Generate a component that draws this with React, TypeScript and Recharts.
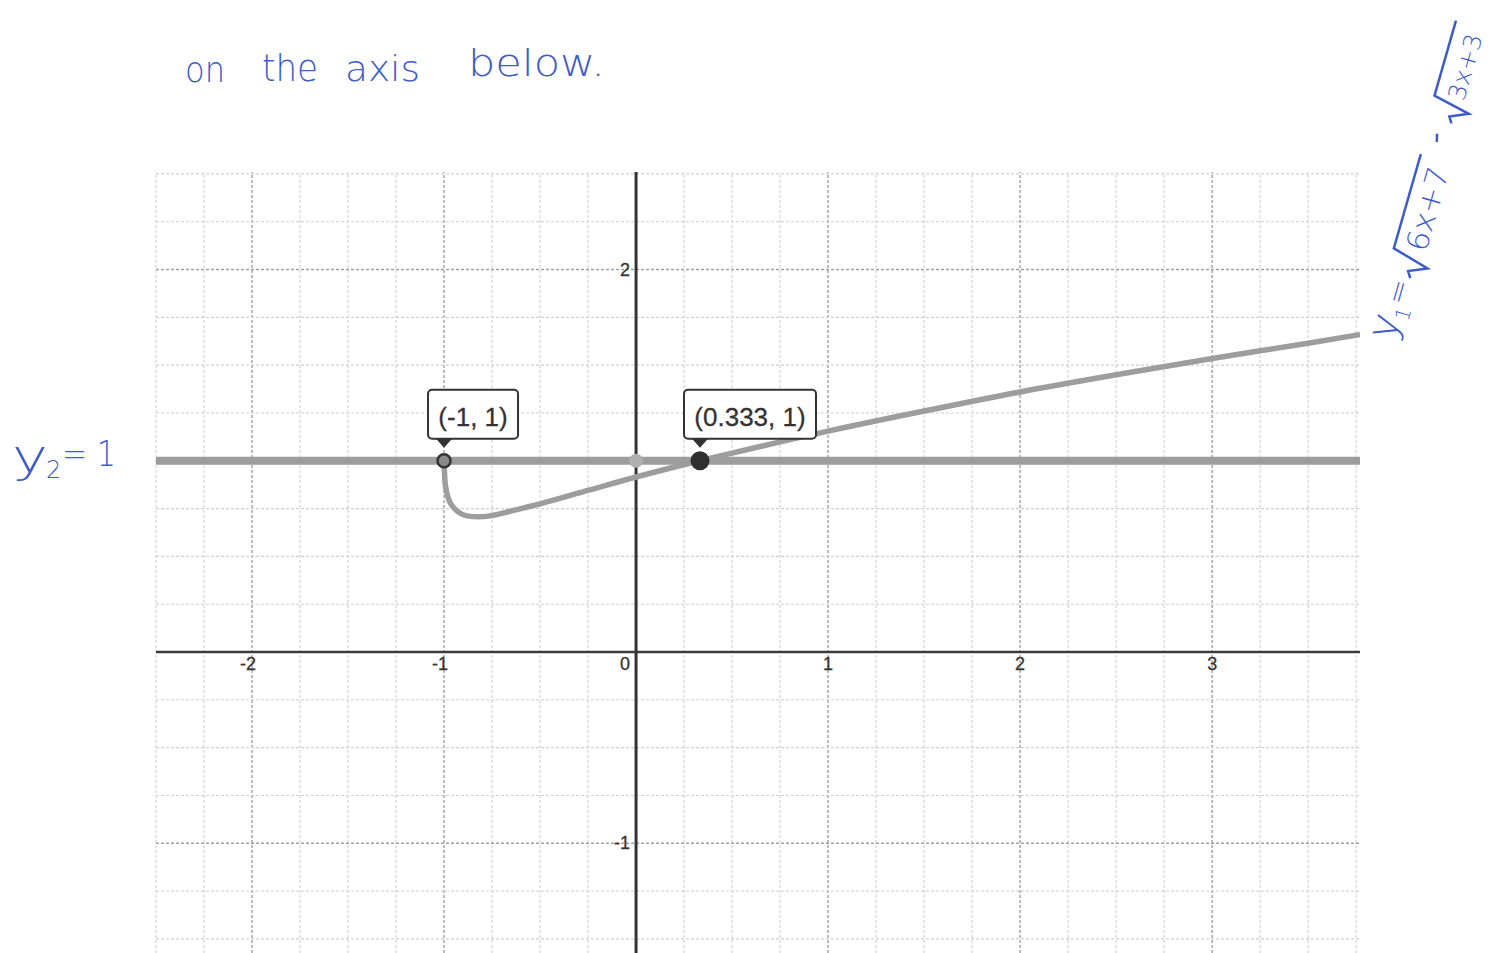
import React from 'react';
import { LineChart, Line, XAxis, YAxis, ReferenceLine, ReferenceDot } from 'recharts';

// y1 = sqrt(6x+7) - sqrt(3x+3)
const curveX = [-1, -0.995, -0.99, -0.98, -0.97, -0.95, -0.92, -0.88, -0.82, -0.76, -0.7, -0.6, -0.5, -0.25, 0, 0.333, 0.5, 1, 1.5, 2, 2.5, 3, 3.5, 3.77];
const curveY = [1, 0.89, 0.855, 0.81, 0.785, 0.755, 0.728, 0.712, 0.707, 0.712, 0.725, 0.75, 0.775, 0.845, 0.915, 1, 1.04, 1.155, 1.26, 1.36, 1.45, 1.535, 1.615, 1.66];

// y2 = 1
const y2Value = 1;

const xDomain: [number, number] = [-2.5, 3.77];
const yDomain: [number, number] = [-1.6, 2.51];

const xTickLabels = [-2, -1, 0, 1, 2, 3];
const yTickLabels = [2, -1];

// intersection points
const pointX = [-1, 0.333];
const pointY = [1, 1];
const pointText = ['(-1, 1)', '(0.333, 1)'];

const FONT = '"Liberation Sans", Arial, sans-serif';
const INK = '#3d5cc9';
const CURVE = '#9d9d9d';

const curveData = curveX.map((x, i) => ({ x, y: curveY[i] }));
const y2Data = xDomain.map(x => ({ x, y: y2Value }));

function steps(from: number, to: number, step: number) {
  const out: number[] = [];
  for (let v = from; v <= to + 1e-9; v += step) out.push(Math.round(v * 100) / 100);
  return out;
}
const gridX = steps(-2.5, 3.75, 0.25).filter(v => v !== 0);
const gridY = steps(-1.5, 2.5, 0.25).filter(v => v !== 0);

// ── 축 눈금 라벨 ──
const xTick = (v: number) => (props: any) => {
  const { viewBox } = props;
  const cx = viewBox.x + viewBox.width / 2;
  const cy = viewBox.y + viewBox.height / 2;
  let anchor: 'middle' | 'end' = 'middle';
  let dx = 0;
  if (v < 0) { anchor = 'end'; dx = 4; }
  if (v === 0) { anchor = 'end'; dx = -6; }
  return (
    <text x={cx + dx} y={cy + 18} textAnchor={anchor} fontSize={18} fill="#333" fontFamily={FONT}
      stroke="#333" strokeWidth={0.3}>
      {v}
    </text>
  );
};

const yTick = (v: number) => (props: any) => {
  const { viewBox } = props;
  const cx = viewBox.x + viewBox.width / 2;
  const cy = viewBox.y + viewBox.height / 2;
  return (
    <text x={cx - 6} y={cy + 6} textAnchor="end" fontSize={18} fill="#333" fontFamily={FONT}
      stroke="#333" strokeWidth={0.3}>
      {v}
    </text>
  );
};

// ── 좌표 말풍선 ──
const callout = (text: string) => (props: any) => {
  const { viewBox } = props;
  const cx = viewBox.x + viewBox.width / 2;
  const cy = viewBox.y + viewBox.height / 2;
  const w = text.length * 14 - 8;
  const left = cx - 16;
  const bottom = cy - 22;
  const top = bottom - 49;
  return (
    <g>
      <rect x={left} y={top} width={w} height={49} rx={4} fill="#fff" stroke="#333" strokeWidth={2} />
      <path d={`M${cx - 8},${bottom} L${cx + 8},${bottom} L${cx},${bottom + 9} Z`} fill="#333" />
      <text x={left + w / 2} y={top + 36} textAnchor="middle" fontSize={26} fill="#333" fontFamily={FONT}
        stroke="#333" strokeWidth={0.3}>
        {text}
      </text>
    </g>
  );
};

function Handwriting() {
  const hand = { fill: INK, fontFamily: '"DejaVu Sans", sans-serif', fontWeight: 200 } as const;
  return (
    <svg width={1494} height={953} style={{ position: 'absolute', left: 0, top: 0, pointerEvents: 'none' }}>
      <text x={185} y={82} fontSize={36} textLength={40} lengthAdjust="spacingAndGlyphs" {...hand}>on</text>
      <text x={262} y={81} fontSize={38} textLength={56} lengthAdjust="spacingAndGlyphs" {...hand}>the</text>
      <text x={345} y={81} fontSize={36} textLength={75} lengthAdjust="spacingAndGlyphs" {...hand}>axis</text>
      <text x={468} y={76} fontSize={38} textLength={137} lengthAdjust="spacingAndGlyphs" {...hand}>below.</text>

      <text x={12} y={472} fontSize={46} textLength={36} lengthAdjust="spacingAndGlyphs" {...hand}>y</text>
      <text x={46} y={478} fontSize={24} {...hand}>2</text>
      <text x={62} y={466} fontSize={36} textLength={54} lengthAdjust="spacingAndGlyphs" {...hand}>= 1</text>

      <g transform="rotate(-74 1394 342)">
        <text x={1394} y={342} fontSize={42} {...hand}>y</text>
        <text x={1417} y={350} fontSize={20} {...hand}>1</text>
        <text x={1431} y={342} fontSize={30} {...hand}>=</text>
        <g transform="translate(8 10)">
          <path d="M1452,330 L1458,326 L1466,344 L1476,306 L1574,306" fill="none" stroke={INK} strokeWidth={2.5} />
          <text x={1480} y={338} fontSize={30} textLength={86} lengthAdjust="spacingAndGlyphs" {...hand}>6x+7</text>
        </g>
        <line x1={1598} y1={328} x2={1606} y2={326} stroke={INK} strokeWidth={2.5} />
        <g transform="translate(20 15)">
          <path d="M1600,322 L1606,318 L1614,336 L1622,298 L1700,298" fill="none" stroke={INK} strokeWidth={2.5} />
          <text x={1624} y={328} fontSize={24} textLength={68} lengthAdjust="spacingAndGlyphs" {...hand}>3x+3</text>
        </g>
      </g>
    </svg>
  );
}

export default function App() {
  return (
    <div style={{ position: 'absolute', left: 0, top: 0, width: 1494, height: 953, overflow: 'hidden', background: '#fff' }}>
      <LineChart width={1494} height={1000} margin={{ top: 172, right: 134, bottom: 42, left: 156 }}>
        <XAxis type="number" dataKey="x" domain={xDomain} allowDataOverflow hide />
        <YAxis type="number" dataKey="y" domain={yDomain} allowDataOverflow hide />

        {/* 격자 */}
        {gridX.map(v => (
          <ReferenceLine key={`gx${v}`} x={v} stroke={Number.isInteger(v) ? '#a2a2a2' : '#d0d0d0'}
            strokeWidth={Number.isInteger(v) ? 1.4 : 1.1} strokeDasharray="3 2" />
        ))}
        {gridY.map(v => (
          <ReferenceLine key={`gy${v}`} y={v} stroke={Number.isInteger(v) ? '#a2a2a2' : '#d0d0d0'}
            strokeWidth={Number.isInteger(v) ? 1.4 : 1.1} strokeDasharray="3 2" />
        ))}

        {/* 축 */}
        <ReferenceLine y={0} stroke="#3c3c3c" strokeWidth={2.5} />
        <ReferenceLine x={0} stroke="#333" strokeWidth={3} />

        <Line data={y2Data} dataKey="y" type="linear" stroke={CURVE} strokeWidth={8} dot={false} isAnimationActive={false} />
        <Line data={curveData} dataKey="y" type="monotone" stroke={CURVE} strokeWidth={5.5} dot={false} isAnimationActive={false} />

        {xTickLabels.map(v => (
          <ReferenceDot key={`tx${v}`} x={v} y={0} r={1} fill="none" stroke="none" label={xTick(v)} />
        ))}
        {yTickLabels.map(v => (
          <ReferenceDot key={`ty${v}`} x={0} y={v} r={1} fill="none" stroke="none" label={yTick(v)} />
        ))}

        <ReferenceDot x={0} y={y2Value} r={7} fill="#b0b0b0" stroke="none" />
        <ReferenceDot x={pointX[0]} y={pointY[0]} r={6.5} fill="#8a8a8a" stroke="#333" strokeWidth={2.5} label={callout(pointText[0])} />
        <ReferenceDot x={pointX[1]} y={pointY[1]} r={9.5} fill="#2f2f2f" stroke="none" label={callout(pointText[1])} />
      </LineChart>
      <Handwriting />
    </div>
  );
}
